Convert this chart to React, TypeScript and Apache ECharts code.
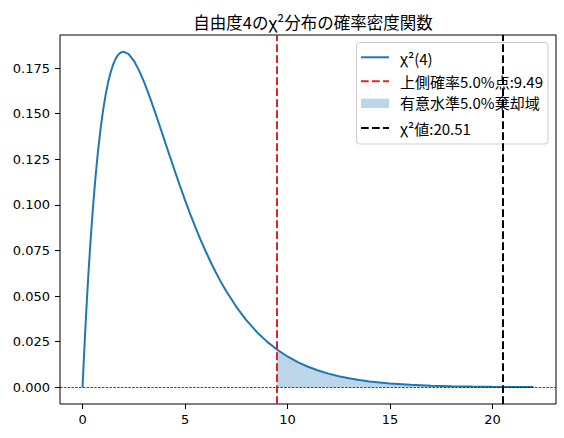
import React, { useEffect, useRef } from "react";
import * as echarts from "echarts";

// chi-square(4) density
const xs = [0, 0.05, 0.1, 0.15, 0.2, 0.25, 0.3, 0.375, 0.5, 0.625, 0.75, 0.875, 1, 1.125, 1.25, 1.375, 1.5, 1.625, 1.75, 1.875, 2, 2.25, 2.5, 2.75, 3, 3.25, 3.5, 3.75, 4, 4.25, 4.5, 4.75, 5, 5.25, 5.5, 5.75, 6, 6.25, 6.5, 6.75, 7, 7.5, 8, 8.5, 9, 9.5, 10, 10.5, 11, 11.5, 12, 12.5, 13, 13.5, 14, 15, 16, 17, 18, 19, 20, 21, 22];
const ys = [0, 0.01219, 0.02378, 0.03479, 0.04524, 0.05516, 0.06455, 0.07772, 0.09735, 0.11432, 0.12887, 0.14124, 0.15163, 0.16025, 0.16727, 0.17284, 0.17714, 0.18027, 0.18238, 0.18358, 0.18394, 0.18262, 0.17907, 0.17383, 0.16735, 0.15999, 0.15205, 0.14377, 0.13534, 0.1269, 0.11857, 0.11045, 0.10261, 0.09508, 0.0879, 0.0811, 0.07468, 0.06865, 0.06301, 0.05774, 0.05285, 0.0441, 0.03663, 0.03031, 0.025, 0.02055, 0.01685, 0.01378, 0.01124, 0.00915, 0.00744, 0.00603, 0.00489, 0.00395, 0.00319, 0.00207, 0.00134, 0.00086, 0.00056, 0.00036, 0.00023, 0.00015, 0.00009];

const CRIT = 9.49;
const CRIT_DENSITY = 0.02063;
const CHI2_VALUE = 20.51;

const xTicks = [0, 5, 10, 15, 20];
const yTicks = [0, 0.025, 0.05, 0.075, 0.1, 0.125, 0.15, 0.175];

const TITLE = "自由度4のχ²分布の確率密度関数";
const legendLabels = ["χ²(4)", "上側確率5.0%点:9.49", "有意水準5.0%棄却域", "χ²値:20.51"];

const BLUE = "#1f77b4";
const RED = "#d62728";
const CJK = "'Noto Sans CJK JP', 'DejaVu Sans', sans-serif";
const NUM = "'DejaVu Sans', sans-serif";

export default function App() {
  const ref = useRef<HTMLDivElement>(null);

  useEffect(() => {
    if (!ref.current) return;
    const chart = echarts.init(ref.current, null, { renderer: "svg" });

    const curve = xs.map((x, i) => [x, ys[i]]);
    const tail = [[CRIT, CRIT_DENSITY], ...xs.map((x, i) => [x, ys[i]]).filter((p) => p[0] > CRIT)];

    const dash = [7.7, 3.3];
    const lx1 = 361;
    const lx2 = 389;
    const rows = [57.3, 81.3, 103.3, 128];
    const textY = [58.5, 81.7, 102.8, 128];

    chart.setOption({
      animation: false,
      backgroundColor: "#ffffff",
      title: {
        text: TITLE,
        left: 308,
        top: 9,
        textAlign: "center",
        textStyle: { fontFamily: CJK, fontSize: 16.5, fontWeight: "normal", color: "#000" },
      },
      grid: {
        left: 60,
        right: 8,
        top: 35,
        bottom: 34,
        show: true,
        borderColor: "#000",
        borderWidth: 1,
        backgroundColor: "transparent",
      },
      xAxis: {
        type: "value",
        min: -1.1,
        max: 23.1,
        position: "bottom",
        axisLine: { show: false, onZero: false },
        splitLine: { show: false },
        axisTick: { show: true, length: 5, lineStyle: { color: "#000", width: 1 }, customValues: xTicks },
        axisLabel: {
          customValues: xTicks,
          margin: 9,
          fontFamily: NUM,
          fontSize: 13,
          color: "#000",
          formatter: (v: number) => String(v),
        },
      },
      yAxis: {
        type: "value",
        min: -0.0092,
        max: 0.1931,
        position: "left",
        axisLine: { show: false, onZero: false },
        splitLine: { show: false },
        axisTick: { show: true, length: 5, lineStyle: { color: "#000", width: 1 }, customValues: yTicks },
        axisLabel: {
          customValues: yTicks,
          margin: 10,
          fontFamily: NUM,
          fontSize: 13,
          color: "#000",
          formatter: (v: number) => v.toFixed(3),
        },
      },
      series: [
        {
          type: "line",
          data: curve,
          symbol: "none",
          showSymbol: false,
          lineStyle: { color: BLUE, width: 2 },
          z: 3,
          markLine: {
            silent: true,
            symbol: ["none", "none"],
            label: { show: false },
            animation: false,
            data: [
              { yAxis: 0, lineStyle: { color: "#000", width: 0.7, type: [2.6, 1.2] } },
              { xAxis: CRIT, lineStyle: { color: RED, width: 2, type: dash } },
              { xAxis: CHI2_VALUE, lineStyle: { color: "#000", width: 2, type: dash } },
            ],
          },
        },
        {
          type: "line",
          data: tail,
          symbol: "none",
          showSymbol: false,
          lineStyle: { width: 0, opacity: 0 },
          areaStyle: { color: BLUE, opacity: 0.3, origin: 0 },
          z: 4,
        },
      ],
      graphic: [
        {
          type: "group",
          z: 100,
          children: [
            {
              type: "rect",
              shape: { x: 356.5, y: 42.5, width: 191.5, height: 101.5, r: 3 },
              style: { fill: "rgba(255,255,255,0.8)", stroke: "#cccccc", lineWidth: 1 },
            },
            {
              type: "line",
              shape: { x1: lx1, y1: rows[0], x2: lx2, y2: rows[0] },
              style: { stroke: BLUE, lineWidth: 2 },
            },
            {
              type: "line",
              shape: { x1: lx1, y1: rows[1], x2: lx2, y2: rows[1] },
              style: { stroke: RED, lineWidth: 2, lineDash: dash },
            },
            {
              type: "rect",
              shape: { x: lx1, y: rows[2] - 4.7, width: lx2 - lx1, height: 9.4 },
              style: { fill: "rgba(31,119,180,0.3)" },
            },
            {
              type: "line",
              shape: { x1: lx1, y1: rows[3], x2: lx2, y2: rows[3] },
              style: { stroke: "#000", lineWidth: 2, lineDash: dash },
            },
            ...legendLabels.map((t, i) => ({
              type: "text",
              x: 400,
              y: textY[i],
              style: {
                text: t,
                fontFamily: CJK,
                fontSize: 15,
                fill: "#000",
                textAlign: "left",
                textVerticalAlign: "middle",
              },
            })),
          ],
        },
      ],
    });

    return () => chart.dispose();
  }, []);

  return (
    <div
      ref={ref}
      style={{ position: "fixed", left: 0, top: 0, width: 564, height: 438, background: "#fff" }}
    />
  );
}
